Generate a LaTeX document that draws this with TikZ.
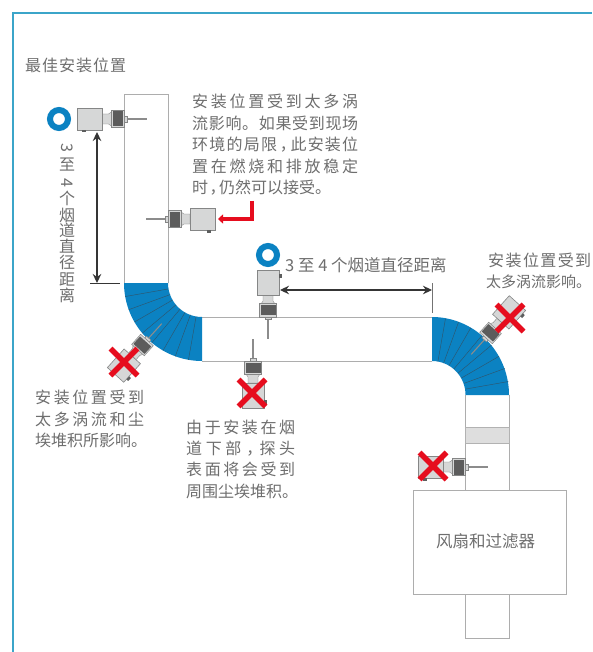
\documentclass[tikz,border=0pt]{standalone}
\usepackage{fontspec}
\usepackage{graphicx}
\usetikzlibrary{arrows.meta}
\setmainfont{Noto Sans CJK SC}
\definecolor{framec}{HTML}{3BA5C9}
\definecolor{blueC}{HTML}{0B82C2}
\definecolor{redC}{HTML}{E60D1E}
\definecolor{txt}{HTML}{6E6E6E}
\definecolor{duct}{HTML}{ADADAD}
\definecolor{seam}{HTML}{2E566E}
\definecolor{bodyC}{HTML}{D6D7D7}
\definecolor{bodyL}{HTML}{858686}
\definecolor{threadC}{HTML}{5C5C5C}
\definecolor{dark}{HTML}{353535}
\makeatletter
\def\jloop#1#2{#1\ifx#2\relax\else\hfill\expandafter\jloop\expandafter#2\fi}
\newcommand\jline[2]{\makebox[#1pt][s]{\jloop#2\relax}}
\makeatother
\newcommand\cm{\makebox[11pt][l]{\kern1.5pt ，}}
\tikzset{
  ductline/.style={draw=duct,line width=0.9pt},
  seamline/.style={draw=seam,line width=0.45pt},
  lbl/.style={anchor=west,inner sep=0pt,text=txt,text height=13pt,text depth=2.5pt,
     font=\fontsize{16}{18}\selectfont},
  vchar/.style={inner sep=0pt,text=txt,font=\fontsize{16}{18}\selectfont},
  dim/.style={draw=dark,line width=1.1pt,{Stealth[length=9pt,width=8.5pt]}-{Stealth[length=9pt,width=8.5pt]}},
  tick/.style={draw=dark,line width=0.5pt},
  ring/.style={draw=blueC,line width=6pt,fill=none},
  crossbar/.style={draw=redC,line width=5.6pt},
  sensor/.pic={
    \draw[line width=1.1pt,draw=black!45] (0,0) -- (22,0);
    \filldraw[fill=bodyC,draw=bodyL,line width=0.5pt] (0,-3) rectangle (2.5,3);
    \filldraw[fill=bodyC,draw=bodyL,line width=0.4pt] (-22,-5) -- (-16,-5) -- (-13,-7) -- (-13,7) -- (-16,5) -- (-22,5) -- cycle;
    \filldraw[fill=bodyC,draw=bodyL,line width=0.5pt] (-13.5,-8.5) rectangle (0,8.5);
    \fill[threadC] (-12,-7.5) rectangle (-2,7.5);
    \filldraw[fill=bodyC,draw=bodyL,line width=0.6pt] (-47,-11) rectangle (-22,11);
    \filldraw[fill=bodyL!70!black,draw=none] (-43,11) rectangle (-39,13.5);
  },
  elbowfill/.style={fill=blueC,draw=none},
}
\begin{document}
\begin{tikzpicture}[x=1pt,y=-1pt]
\useasboundingbox (0,0) rectangle (592,652);
\fill[white] (0,0) rectangle (592,652);
\draw[framec,line width=1.3pt] (592,13) -- (13,13) -- (13,652);

% ducts
\coordinate (c1) at (202,283);
\coordinate (c2) at (432,395);
\draw[ductline] (124.5,283) -- (124.5,94) -- (168,94) -- (168,283);
\draw[ductline] (202,317) -- (432,317);
\draw[ductline] (202,361) -- (432,361);
\draw[ductline] (465.5,395) -- (465.5,490);
\draw[ductline] (509,395) -- (509,490);
\filldraw[fill=black!13,draw=black!30,line width=0.8pt] (465.5,427) rectangle (509,443);
\node[draw=duct,line width=0.9pt,minimum width=153pt,minimum height=104pt,inner sep=0pt] (fan) at (489.5,542) {};
\node[inner sep=0pt,text=txt,font=\fontsize{16.5}{18}\selectfont] (fanlabel) at (485.5,541) {风扇和过滤器};
\draw[ductline] (465.5,594) -- (465.5,638) -- (509,638) -- (509,594);

% elbows
\fill[elbowfill] plot[domain=90:180,samples=40] ({202+78*cos(\x)},{283+78*sin(\x)})
  -- plot[domain=180:90,samples=40] ({202+34*cos(\x)},{283+34*sin(\x)}) -- cycle;
\fill[elbowfill] plot[domain=270:360,samples=40] ({432+77*cos(\x)},{395+78*sin(\x)})
  -- plot[domain=360:270,samples=40] ({432+33.5*cos(\x)},{395+34*sin(\x)}) -- cycle;
\foreach \a in {100,110,...,170} {\draw[seamline] (c1) +(\a:34) -- +(\a:78);}
\foreach \a in {280,290,...,350} {\draw[seamline] (c2) +(\a:34) -- +(\a:77.5);}

% sensors
\pic (s1) at (124.5,119) {sensor};
\pic[rotate=180,yscale=-1] (s2) at (168,219) {sensor};
\pic[rotate=-90,yscale=-1] (s3) at (268,317) {sensor};
\pic[rotate=90] (s4) at (253,361) {sensor};
\pic[rotate=48] (s5) at (147,340) {sensor};
\pic[rotate=-132,yscale=-1] (s6) at (486,338) {sensor};
\pic (s7) at (465.5,467) {sensor};

% rings
\node[circle,ring,minimum size=18pt,inner sep=0pt] (r1) at (59,119) {};
\node[circle,ring,minimum size=18pt,inner sep=0pt] (r2) at (268,255) {};

% crosses
\foreach \cx/\cy in {124/362,252/393,510/318,433/466} {
  \draw[crossbar] (\cx-13.5,\cy-13.5) -- (\cx+13.5,\cy+13.5);
  \draw[crossbar] (\cx-13.5,\cy+13.5) -- (\cx+13.5,\cy-13.5);
}

% dimensions
\coordinate (d1a) at (97,132);
\coordinate (d1b) at (97,283);
\coordinate (t1a) at (90,283);
\coordinate (t1b) at (120,283);
\draw[dim] (d1a) -- (d1b);
\draw[tick] (t1a) -- (t1b);
\coordinate (d2a) at (280,290);
\coordinate (d2b) at (432,290);
\coordinate (t2a) at (432,283);
\coordinate (t2b) at (432,313);
\draw[dim] (d2a) -- (d2b);
\draw[tick,draw=black!55] (t2a) -- (t2b);

% red arrow
\coordinate (ra) at (252,201);
\coordinate (rb) at (252,219);
\coordinate (rc) at (218,219);
\draw[redC,line width=3.2pt,-{Triangle[length=5pt,width=9pt]}] (ra) -- (rb) -- (rc);

% texts
\node[lbl] (t0) at (25,66.5) {\jline{101}{最佳安装位置}};
\node[lbl] (a1) at (192,102) {\jline{166}{安装位置受到太多涡}};
\node[lbl] (a2) at (192,124) {\jline{166}{流影响。如果受到现场}};
\node[lbl] (a3) at (192,145.5) {\jline{166}{环境的局限\cm 此安装位}};
\node[lbl] (a4) at (192,167) {\jline{166}{置在燃烧和排放稳定}};
\node[lbl] (a5) at (192,188) {\makebox[134pt][s]{\jloop 时\cm 仍然可以接受。\relax}};
\node[lbl] (b1) at (488,261) {\jline{103}{安装位置受到}};
\node[lbl,font=\fontsize{15}{18}\selectfont] (b2) at (486,282) {太多涡流影响。};
\node[lbl] (c1t) at (35,398) {\jline{109}{安装位置受到}};
\node[lbl] (c2t) at (35,420) {\jline{109}{太多涡流和尘}};
\node[lbl] (c3t) at (35,441) {\jline{112}{埃堆积所影响。}};
\node[lbl] (d1t) at (186,428) {\jline{109}{由于安装在烟}};
\node[lbl] (d2t) at (186,449) {\jline{109}{道下部\cm 探头}};
\node[lbl] (d3t) at (186,470) {\jline{109}{表面将会受到}};
\node[lbl] (d4t) at (186,492) {\jline{112}{周围尘埃堆积。}};
\node[lbl,font=\fontsize{16.5}{18}\selectfont] (e1) at (285,266) {3 至 4 个烟道直径距离};
\node[vchar,rotate=-90] (v1) at (67,148) {3};
\node[vchar] (v2) at (67,165) {至};
\node[vchar,rotate=-90] (v3) at (67,183) {4};
\node[vchar] (v4) at (67,198) {个};
\node[vchar] (v5) at (67,215) {烟};
\node[vchar] (v6) at (67,230.5) {道};
\node[vchar] (v7) at (67,246.5) {直};
\node[vchar] (v8) at (67,262.5) {径};
\node[vchar] (v9) at (67,279) {距};
\node[vchar] (v10) at (67,295) {离};
\end{tikzpicture}
\end{document}
